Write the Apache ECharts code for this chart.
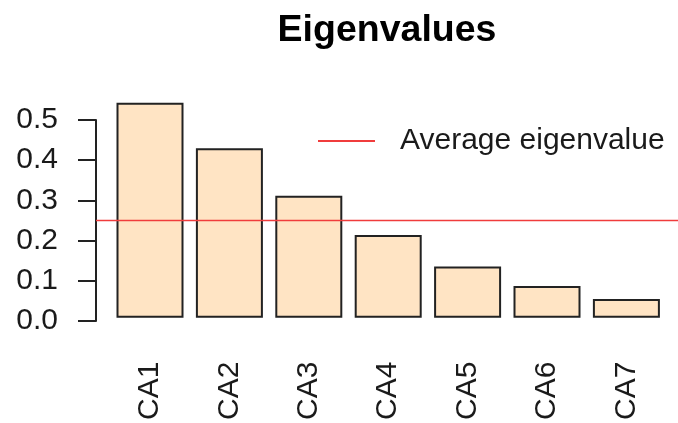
<!DOCTYPE html>
<html>
<head>
<meta charset="utf-8">
<script src="https://cdn.jsdelivr.net/npm/echarts@6/dist/echarts.min.js"></script>
<style>html,body{margin:0;padding:0;background:#fff;}#c{width:678px;height:423px;}</style>
</head>
<body>
<div id="c"></div>
<script>
var categories = ['CA1', 'CA2', 'CA3', 'CA4', 'CA5', 'CA6', 'CA7'];
var eigenvalues = [0.543, 0.428, 0.308, 0.209, 0.129, 0.080, 0.047];
var averageEigenvalue = 0.25;
var yTicks = [0.0, 0.1, 0.2, 0.3, 0.4, 0.5];

var font = 'Liberation Sans, Arial, sans-serif';
var chart = echarts.init(document.getElementById('c'), null, {renderer: 'canvas'});
chart.setOption({
  animation: false,
  backgroundColor: '#ffffff',
  title: {
    text: 'Eigenvalues',
    left: 387, textAlign: 'center', top: 12, padding: 0,
    textStyle: {fontFamily: font, fontSize: 37.5, fontWeight: 'bold', color: '#000'}
  },
  legend: {
    data: ['Average eigenvalue'],
    left: 318, top: 126, padding: 0,
    itemWidth: 57, itemHeight: 2, icon: 'rect',
    textStyle: {fontFamily: font, fontSize: 30, color: '#1a1a1a', padding: [0, 0, 0, 20]}
  },
  grid: [
    {left: 110.3, width: 555.8, top: 99.9, height: 221.1},
    {left: 96, right: 0, top: 120, height: 201}
  ],
  xAxis: [
    {
      type: 'category', gridIndex: 0, data: categories,
      axisLine: {show: false}, axisTick: {show: false},
      axisLabel: {rotate: 90, margin: 44, fontFamily: font, fontSize: 30, color: '#1a1a1a'}
    },
    {type: 'value', gridIndex: 1, min: 0, max: 1, show: false}
  ],
  yAxis: [
    {type: 'value', gridIndex: 0, min: 0, max: 0.55, show: false},
    {
      type: 'value', gridIndex: 1, min: 0, max: 0.5, interval: 0.1,
      axisLine: {show: true, lineStyle: {color: '#222', width: 2}},
      axisTick: {show: true, length: 18, lineStyle: {color: '#222', width: 2}},
      splitLine: {show: false},
      axisLabel: {margin: 38, fontFamily: font, fontSize: 30, color: '#1a1a1a',
        formatter: function (v) { return v.toFixed(1); }}
    }
  ],
  series: [
    {
      type: 'bar', xAxisIndex: 0, yAxisIndex: 0, data: eigenvalues,
      barWidth: 67,
      itemStyle: {color: '#FFE4C4', borderColor: '#222', borderWidth: 2}
    },
    {
      name: 'Average eigenvalue', type: 'line', xAxisIndex: 1, yAxisIndex: 1,
      data: [[0, averageEigenvalue], [1, averageEigenvalue]],
      symbol: 'none', z: 5,
      lineStyle: {color: '#f03c3c', width: 1.5},
      itemStyle: {color: '#f03c3c'}
    }
  ]
});
</script>
</body>
</html>
